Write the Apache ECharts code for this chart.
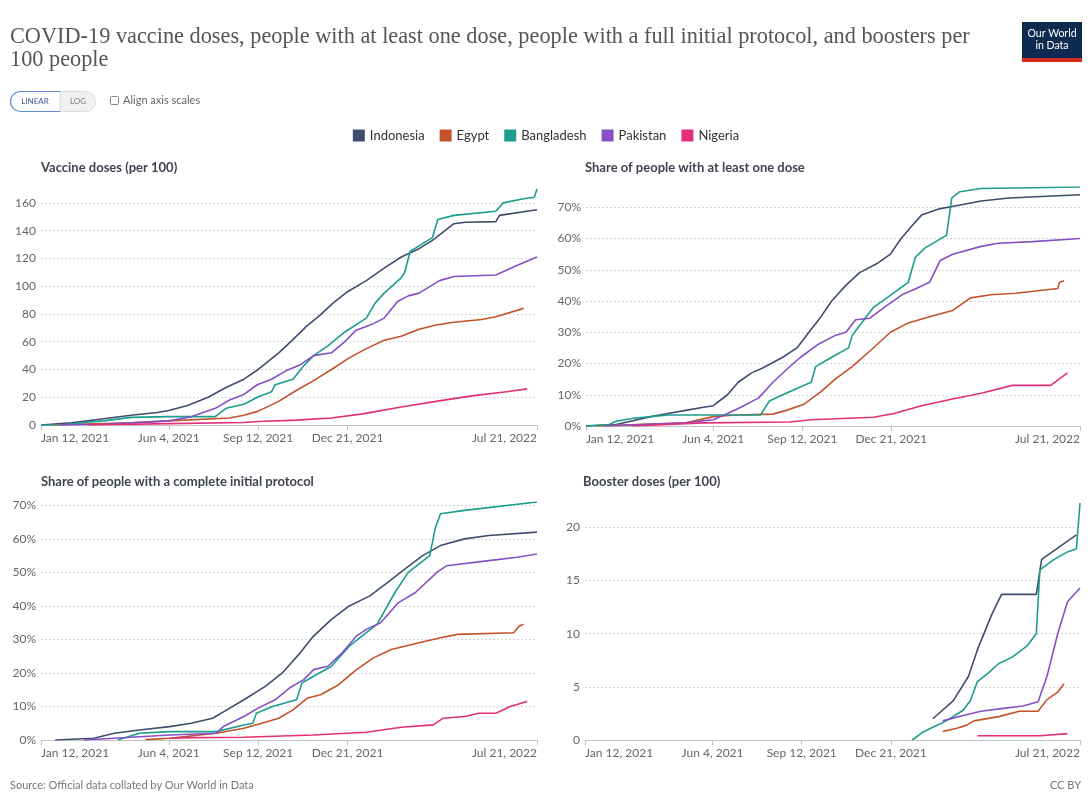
<!DOCTYPE html>
<html>
<head>
<meta charset="utf-8">
<script src="https://cdn.jsdelivr.net/npm/echarts@6/dist/echarts.min.js"></script>
<style>
html,body{margin:0;padding:0;background:#fff;}
#chart{width:1092px;height:796px;}
</style>
</head>
<body>
<div id="chart"></div>
<script>
// ---------- categories / ticks ----------
const countries = ['Indonesia', 'Egypt', 'Bangladesh', 'Pakistan', 'Nigeria'];
const countryColors = ['#3f4d6e', '#c4522b', '#1c9d8d', '#8650c4', '#e22f78'];
const xTickDates = ['2021-01-12', '2021-06-04', '2021-09-12', '2021-12-21', '2022-07-21'];
const dosesTicks = [0, 20, 40, 60, 80, 100, 120, 140, 160];
const pctTicks = [0, 10, 20, 30, 40, 50, 60, 70];
const boosterTicks = [0, 5, 10, 15, 20];
const panelTitles = ['Vaccine doses (per 100)', 'Share of people with at least one dose',
  'Share of people with a complete initial protocol', 'Booster doses (per 100)'];

// ---------- Vaccine doses (per 100) ----------
const dosesIndonesia = [['2021-01-12',0],['2021-02-15',1.5],['2021-03-23',4.5],['2021-04-23',7],['2021-05-22',9],['2021-06-04',10.5],['2021-06-25',14],['2021-07-18',20],['2021-08-07',27],['2021-08-27',33],['2021-09-12',40],['2021-10-05',52],['2021-10-20',61],['2021-11-05',71],['2021-11-20',79],['2021-12-05',88],['2021-12-21',96],['2022-01-11',104],['2022-01-31',113],['2022-02-19',121],['2022-03-11',127],['2022-03-26',133],['2022-04-19',145],['2022-05-02',146],['2022-06-05',146.5],['2022-06-09',151],['2022-07-21',155]];
const dosesEgypt = [['2021-01-24',0],['2021-04-23',1.5],['2021-06-04',3],['2021-08-11',5],['2021-08-27',7],['2021-09-12',10],['2021-10-05',17],['2021-10-25',25],['2021-11-13',32],['2021-12-03',40],['2021-12-22',48],['2022-01-11',55],['2022-01-31',61],['2022-02-19',64],['2022-03-11',69],['2022-03-30',72],['2022-04-19',74],['2022-05-20',76],['2022-06-05',78],['2022-07-06',84]];
const dosesBangladesh = [['2021-01-12',0],['2021-02-07',0.2],['2021-03-01',1.8],['2021-03-23',3],['2021-04-23',5.5],['2021-06-04',6],['2021-07-26',6],['2021-08-07',12],['2021-08-27',15],['2021-09-11',20],['2021-09-27',24],['2021-10-01',29],['2021-10-21',33],['2021-11-01',42],['2021-11-13',50],['2021-11-29',57],['2021-12-18',67],['2022-01-11',77],['2022-01-21',88],['2022-01-31',95],['2022-02-19',106],['2022-02-23',110],['2022-03-01',125],['2022-03-11',129],['2022-03-26',135],['2022-04-01',148],['2022-04-19',151],['2022-06-05',154],['2022-06-13',160],['2022-07-06',163],['2022-07-18',164],['2022-07-21',170]];
const dosesPakistan = [['2021-02-02',0],['2021-03-23',0.5],['2021-04-23',1.5],['2021-06-04',3],['2021-06-09',3.5],['2021-06-29',6],['2021-07-26',12],['2021-08-11',18],['2021-08-27',22],['2021-09-11',29],['2021-09-27',33],['2021-10-13',39],['2021-10-28',43],['2021-11-13',50],['2021-12-03',52],['2021-12-18',60],['2021-12-30',68],['2022-01-19',73],['2022-01-31',77],['2022-02-15',89],['2022-02-27',93],['2022-03-11',95],['2022-04-03',104],['2022-04-19',107],['2022-06-05',108],['2022-06-29',115],['2022-07-21',121]];
const dosesNigeria = [['2021-03-05',0],['2021-06-04',1],['2021-08-27',1.8],['2021-09-12',2.5],['2021-10-25',3.5],['2021-12-03',5],['2022-01-07',8],['2022-02-19',13],['2022-03-30',17],['2022-05-09',21],['2022-06-17',24],['2022-07-10',26]];

// ---------- Share with at least one dose (%) ----------
const oneDoseIndonesia = [['2021-01-12',0],['2021-02-15',0.5],['2021-03-26',3],['2021-04-14',4],['2021-05-04',5],['2021-05-24',6],['2021-06-04',6.5],['2021-06-20',10],['2021-07-02',14],['2021-07-17',17],['2021-07-29',18.5],['2021-08-21',22],['2021-09-06',25],['2021-09-22',31],['2021-10-03',35],['2021-10-15',40],['2021-10-31',45],['2021-11-15',49],['2021-12-05',52],['2021-12-20',55],['2022-01-01',60],['2022-01-13',64],['2022-01-24',67.5],['2022-02-13',69.5],['2022-03-04',70.5],['2022-04-01',72],['2022-05-02',73],['2022-07-21',74]];
const oneDoseEgypt = [['2021-01-24',0],['2021-05-04',1],['2021-06-04',3],['2021-06-28',3.5],['2021-08-10',3.8],['2021-08-25',5],['2021-09-14',7],['2021-10-03',11],['2021-10-19',15],['2021-11-07',19],['2021-11-27',24],['2021-12-20',30],['2022-01-09',33],['2022-02-02',35],['2022-02-28',37],['2022-03-20',41],['2022-04-12',42],['2022-05-10',42.5],['2022-06-26',44],['2022-06-28',46],['2022-07-03',46.5]];
const oneDoseBangladesh = [['2021-01-12',0],['2021-02-07',0.5],['2021-02-15',1.5],['2021-03-06',2.5],['2021-03-26',3],['2021-04-14',3.5],['2021-07-27',3.5],['2021-08-06',8],['2021-08-21',10],['2021-09-06',12],['2021-09-22',14],['2021-09-27',19],['2021-10-15',22],['2021-11-03',25],['2021-11-07',29],['2021-12-01',38],['2021-12-16',41],['2022-01-09',46],['2022-01-17',54],['2022-01-28',57],['2022-02-21',61],['2022-02-27',73],['2022-03-08',75],['2022-04-01',76],['2022-07-21',76.5]];
const oneDosePakistan = [['2021-02-02',0],['2021-05-04',1],['2021-06-04',2],['2021-06-20',4],['2021-07-05',6],['2021-07-25',9],['2021-08-10',14],['2021-08-25',18],['2021-09-10',22],['2021-09-29',26],['2021-10-19',29],['2021-10-31',30],['2021-11-11',34],['2021-11-27',34.5],['2021-12-13',38],['2022-01-02',42],['2022-01-18',44],['2022-02-02',46],['2022-02-14',53],['2022-02-28',55],['2022-04-01',57.5],['2022-04-20',58.5],['2022-05-29',59],['2022-07-21',60]];
const oneDoseNigeria = [['2021-03-05',0],['2021-05-24',1],['2021-08-29',1.3],['2021-09-22',2],['2021-12-01',2.8],['2021-12-24',4],['2022-01-24',6.5],['2022-02-25',8.5],['2022-04-01',10.5],['2022-05-06',13],['2022-06-18',13],['2022-07-07',17]];

// ---------- Share with complete initial protocol (%) ----------
const fullIndonesia = [['2021-01-28',0],['2021-03-12',0.5],['2021-04-04',2],['2021-05-02',3],['2021-06-05',4],['2021-06-29',5],['2021-07-23',6.5],['2021-08-08',9],['2021-08-27',12],['2021-09-20',16],['2021-10-09',20],['2021-10-29',26],['2021-11-13',31],['2021-12-03',36],['2021-12-23',40],['2022-01-15',43],['2022-02-04',47],['2022-02-23',51],['2022-03-15',55],['2022-04-04',58],['2022-05-01',60],['2022-05-28',61],['2022-07-21',62]];
const fullEgypt = [['2021-05-09',0.1],['2021-06-05',0.5],['2021-07-27',2],['2021-08-27',3.5],['2021-09-16',5],['2021-10-05',6.5],['2021-10-21',9],['2021-11-06',12.5],['2021-11-21',13.5],['2021-12-11',16.5],['2021-12-31',21],['2022-01-19',24.5],['2022-02-08',27],['2022-03-11',29],['2022-04-04',30.5],['2022-04-23',31.5],['2022-06-25',32],['2022-07-01',34],['2022-07-06',34.5]];
const fullBangladesh = [['2021-04-08',0],['2021-05-02',2],['2021-06-05',2.5],['2021-07-27',2.5],['2021-08-27',4.5],['2021-09-06',5],['2021-09-10',8],['2021-09-28',10],['2021-10-25',12],['2021-10-31',17],['2021-11-13',19],['2021-12-03',22],['2021-12-23',28],['2022-01-11',32],['2022-01-23',34.5],['2022-02-12',44],['2022-02-27',50],['2022-03-23',55],['2022-03-29',63],['2022-04-04',67.5],['2022-05-01',68.5],['2022-07-21',71]];
const fullPakistan = [['2021-03-01',0],['2021-06-05',1.5],['2021-07-27',2],['2021-08-04',4],['2021-08-27',7],['2021-09-12',9.5],['2021-10-01',12],['2021-10-17',15.5],['2021-11-02',18],['2021-11-13',21],['2021-11-29',22],['2021-12-15',26],['2021-12-31',31],['2022-01-11',33],['2022-01-27',35],['2022-02-16',41],['2022-03-07',44],['2022-03-31',50],['2022-04-11',52],['2022-05-28',53.5],['2022-06-29',54.5],['2022-07-21',55.5]];
const fullNigeria = [['2021-06-05',0.5],['2021-07-03',0.7],['2021-08-27',0.8],['2021-11-13',1.5],['2022-01-11',2.3],['2022-02-19',3.8],['2022-03-27',4.5],['2022-04-07',6.5],['2022-05-01',7],['2022-05-17',8],['2022-06-05',8],['2022-06-21',10],['2022-07-10',11.5]];

// ---------- Booster doses (per 100) ----------
const boosterIndonesia = [['2022-02-06',2.0],['2022-03-01',3.7],['2022-03-18',6],['2022-03-28',8.5],['2022-04-13',11.8],['2022-04-24',13.7],['2022-06-02',13.7],['2022-06-08',17],['2022-07-17',19.3]];
const boosterEgypt = [['2022-02-17',0.8],['2022-03-05',1.1],['2022-03-16',1.4],['2022-03-24',1.8],['2022-04-21',2.2],['2022-05-14',2.7],['2022-06-04',2.7],['2022-06-14',3.8],['2022-06-26',4.5],['2022-07-03',5.3]];
const boosterBangladesh = [['2022-01-14',0],['2022-01-25',0.7],['2022-02-06',1.2],['2022-02-21',1.8],['2022-03-12',2.8],['2022-03-20',3.7],['2022-03-28',5.5],['2022-04-09',6.3],['2022-04-21',7.2],['2022-05-06',7.8],['2022-05-22',8.8],['2022-06-02',10],['2022-06-06',16],['2022-06-22',17],['2022-07-07',17.7],['2022-07-17',18],['2022-07-21',22.3]];
const boosterPakistan = [['2022-02-17',1.8],['2022-03-12',2.3],['2022-04-01',2.7],['2022-04-28',3.0],['2022-05-18',3.2],['2022-06-04',3.6],['2022-06-14',6],['2022-06-26',10],['2022-07-07',13],['2022-07-21',14.3]];
const boosterNigeria = [['2022-03-28',0.4],['2022-06-06',0.4],['2022-07-07',0.6]];

// ---------- build ----------
const toTs = s => { const p = s.split('-').map(Number); return Date.UTC(p[0], p[1] - 1, p[2]); };
const MONTHS = ['Jan','Feb','Mar','Apr','May','Jun','Jul','Aug','Sep','Oct','Nov','Dec'];
const fmtDate = v => { const d = new Date(v); return MONTHS[d.getUTCMonth()] + ' ' + d.getUTCDate() + ', ' + d.getUTCFullYear(); };

const panelData = [
  [dosesIndonesia, dosesEgypt, dosesBangladesh, dosesPakistan, dosesNigeria],
  [oneDoseIndonesia, oneDoseEgypt, oneDoseBangladesh, oneDosePakistan, oneDoseNigeria],
  [fullIndonesia, fullEgypt, fullBangladesh, fullPakistan, fullNigeria],
  [boosterIndonesia, boosterEgypt, boosterBangladesh, boosterPakistan, boosterNigeria]
];
const panelTicks = [dosesTicks, pctTicks, pctTicks, boosterTicks];
const panelPct = [false, true, true, false];

const grids = [
  {left: 41, right: 555, top: 189, bottom: 371},
  {left: 586, right: 12, top: 187, bottom: 370},
  {left: 41, right: 555, top: 502, bottom: 56},
  {left: 585, right: 12, top: 503, bottom: 56}
];
const titlePos = [[41, 161], [585, 161], [41, 475], [583, 475]];

const xTicks = xTickDates.map(toTs);
const FONT = 'Lato, "Noto Sans", sans-serif';

const xAxes = grids.map((g, i) => ({
  type: 'value', gridIndex: i,
  min: xTicks[0], max: xTicks[xTicks.length - 1],
  axisLine: {show: true, onZero: false, lineStyle: {color: '#c4c4c4', width: 1}},
  axisTick: {show: true, customValues: xTicks, length: 5, lineStyle: {color: '#c4c4c4'}},
  axisLabel: {customValues: xTicks, formatter: fmtDate, color: '#666', fontSize: 12, margin: 7,
    fontFamily: FONT, alignMinLabel: 'left', alignMaxLabel: 'right', hideOverlap: false},
  splitLine: {show: false}
}));

const yAxes = grids.map((g, i) => ({
  type: 'value', gridIndex: i, min: 0, max: 'dataMax',
  axisLine: {show: false},
  axisTick: {show: false, customValues: panelTicks[i]},
  axisLabel: {customValues: panelTicks[i], color: '#666', fontSize: 12, margin: 5, fontFamily: FONT,
    formatter: panelPct[i] ? (v => v + '%') : (v => String(v))},
  splitLine: {show: true, lineStyle: {type: [2, 2], color: '#d6d6d6', width: 1}}
}));

const series = [];
panelData.forEach((arrs, i) => {
  arrs.forEach((arr, c) => {
    series.push({
      type: 'line', name: countries[c], xAxisIndex: i, yAxisIndex: i,
      data: arr.map(p => [toTs(p[0]), p[1]]),
      showSymbol: false, symbol: 'none', smooth: false,
      lineStyle: {width: 1.6, color: countryColors[c]},
      itemStyle: {color: countryColors[c]},
      emphasis: {disabled: true},
      z: 3
    });
  });
});

const titles = [{
  text: 'COVID-19 vaccine doses, people with at least one dose, people with a full initial protocol, and boosters per\n100 people',
  left: 10, top: 26, padding: 0,
  textStyle: {fontFamily: '"Liberation Serif", "DejaVu Serif", serif', fontSize: 22.3, fontWeight: 'normal', color: '#555', lineHeight: 23}
}].concat(panelTitles.map((t, i) => ({
  text: t, left: titlePos[i][0], top: titlePos[i][1], padding: 0,
  textStyle: {fontFamily: FONT, fontSize: 13, fontWeight: 'bold', color: '#3f4453'}
})));

const option = {
  backgroundColor: '#fff',
  animation: false,
  title: titles,
  legend: {
    data: countries, top: 129, left: 'center', padding: 0, icon: 'rect', itemWidth: 12, itemHeight: 12, itemGap: 15,
    textStyle: {fontFamily: FONT, fontSize: 13, color: '#333'}
  },
  grid: grids,
  xAxis: xAxes,
  yAxis: yAxes,
  series: series,
  graphic: [
    {type: 'rect', shape: {x: 10.5, y: 91.5, width: 50, height: 20, r: [10, 0, 0, 10]}, style: {fill: '#fff', stroke: '#5d8fd8', lineWidth: 1.2}},
    {type: 'text', x: 35, y: 101.5, style: {text: 'LINEAR', fontSize: 8, fontFamily: FONT, fill: '#3a5f99', align: 'center', verticalAlign: 'middle'}},
    {type: 'rect', shape: {x: 60.5, y: 91.5, width: 35, height: 20, r: [0, 10, 10, 0]}, style: {fill: '#f1f1f1', stroke: '#dcdcdc', lineWidth: 1}},
    {type: 'text', x: 78, y: 101.5, style: {text: 'LOG', fontSize: 8, fontFamily: FONT, fill: '#777', align: 'center', verticalAlign: 'middle'}},
    {type: 'rect', shape: {x: 110.5, y: 96.5, width: 8, height: 8, r: 1}, style: {fill: '#fff', stroke: '#888', lineWidth: 1}},
    {type: 'text', x: 123, y: 100.5, style: {text: 'Align axis scales', fontSize: 11, fontFamily: FONT, fill: '#666', verticalAlign: 'middle'}},
    {type: 'rect', shape: {x: 1022, y: 22, width: 60, height: 40}, style: {fill: '#0d2b50'}},
    {type: 'rect', shape: {x: 1022, y: 58, width: 60, height: 4}, style: {fill: '#d42b21'}},
    {type: 'text', x: 1052, y: 40, style: {text: 'Our World\nin Data', fontSize: 10.5, lineHeight: 12, fontFamily: FONT, fill: '#fff', align: 'center', verticalAlign: 'middle'}},
    {type: 'text', x: 10, y: 785, style: {text: 'Source: Official data collated by Our World in Data', fontSize: 11, fontFamily: FONT, fill: '#777', verticalAlign: 'middle'}},
    {type: 'text', x: 1081, y: 785, style: {text: 'CC BY', fontSize: 11, fontFamily: FONT, fill: '#777', align: 'right', verticalAlign: 'middle'}}
  ]
};

const chart = echarts.init(document.getElementById('chart'), null, {renderer: 'canvas'});
chart.setOption(option);
</script>
</body>
</html>
